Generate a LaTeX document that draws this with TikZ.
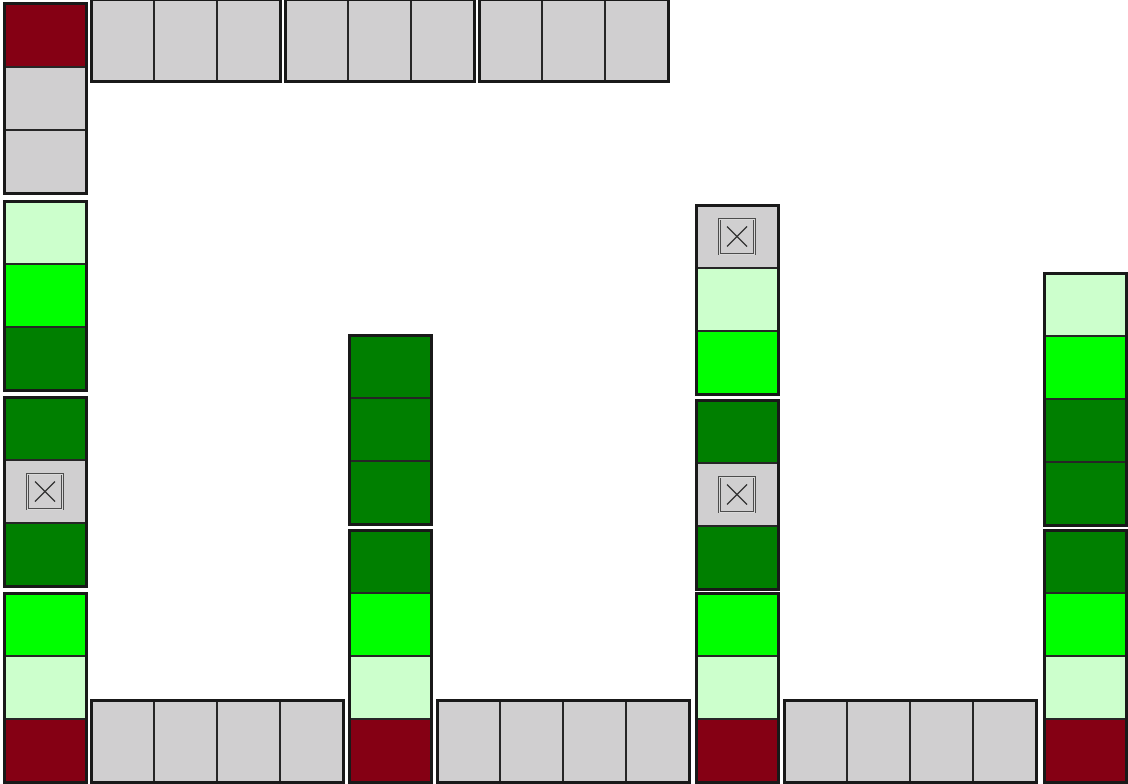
\documentclass[tikz,border=0pt]{standalone}
\usetikzlibrary{positioning}
\definecolor{kred}{HTML}{850014}
\definecolor{kgray}{HTML}{D0CFD0}
\definecolor{klight}{HTML}{CCFFCC}
\definecolor{kgreen}{HTML}{00FF00}
\definecolor{kdark}{HTML}{007F00}
\tikzset{
  vcell/.style={draw=black!85, line width=1.7pt, minimum width=82pt, minimum height=63pt,
    inner sep=0pt, outer sep=0pt, anchor=north west},
  hcell/.style={vcell, minimum width=63pt, minimum height=82pt},
  group/.style={draw=black!90, line width=3pt},
  xbox/.style={draw=black!70, double=black!15, double distance=0.8pt, line width=0.9pt, fill=kgray,
    minimum size=35pt, inner sep=0pt,
    path picture={\draw[black!80, line width=1.2pt]
      ([shift={(-10pt,-10pt)}]path picture bounding box.center) -- ([shift={(10pt,10pt)}]path picture bounding box.center)
      ([shift={(-10pt,10pt)}]path picture bounding box.center) -- ([shift={(10pt,-10pt)}]path picture bounding box.center);}}
}
\begin{document}
\begin{tikzpicture}[x=1pt, y=-1pt]
\useasboundingbox (0,0) rectangle (1128,784);
% top row
\foreach \c [count=\i from 0] in {kgray,kgray,kgray}
  \node[hcell, fill=\c] (ta\i) at (91+63*\i,0) {};
\draw[group] (ta0.north west) rectangle (ta2.south east);
\foreach \c [count=\i from 0] in {kgray,kgray,kgray}
  \node[hcell, fill=\c] (tb\i) at (285+63*\i,0) {};
\draw[group] (tb0.north west) rectangle (tb2.south east);
\foreach \c [count=\i from 0] in {kgray,kgray,kgray}
  \node[hcell, fill=\c] (tc\i) at (479+63*\i,0) {};
\draw[group] (tc0.north west) rectangle (tc2.south east);

% left column
\foreach \c [count=\i from 0] in {kred,kgray,kgray}
  \node[vcell, fill=\c] (la\i) at (4,4+63*\i) {};
\draw[group] (la0.north west) rectangle (la2.south east);
\foreach \c [count=\i from 0] in {klight,kgreen,kdark}
  \node[vcell, fill=\c] (lb\i) at (4,201+63*\i) {};
\draw[group] (lb0.north west) rectangle (lb2.south east);
\foreach \c [count=\i from 0] in {kdark,kgray,kdark}
  \node[vcell, fill=\c] (lc\i) at (4,397+63*\i) {};
\draw[group] (lc0.north west) rectangle (lc2.south east);
\node[xbox] (lx) at (lc1) {};
\foreach \c [count=\i from 0] in {kgreen,klight,kred}
  \node[vcell, fill=\c] (ld\i) at (4,593+63*\i) {};
\draw[group] (ld0.north west) rectangle (ld2.south east);

% second column
\foreach \c [count=\i from 0] in {kdark,kdark,kdark}
  \node[vcell, fill=\c] (ma\i) at (349,335+63*\i) {};
\draw[group] (ma0.north west) rectangle (ma2.south east);
\foreach \c [count=\i from 0] in {kdark,kgreen,klight,kred}
  \node[vcell, fill=\c] (mb\i) at (349,530+63*\i) {};
\draw[group] (mb0.north west) rectangle (mb3.south east);

% third column
\foreach \c [count=\i from 0] in {kgray,klight,kgreen}
  \node[vcell, fill=\c] (na\i) at (696,205+63*\i) {};
\draw[group] (na0.north west) rectangle (na2.south east);
\node[xbox] (nx) at (na0) {};
\foreach \c [count=\i from 0] in {kdark,kgray,kdark}
  \node[vcell, fill=\c] (nb\i) at (696,400+63*\i) {};
\draw[group] (nb0.north west) rectangle (nb2.south east);
\node[xbox] (ny) at (nb1) {};
\foreach \c [count=\i from 0] in {kgreen,klight,kred}
  \node[vcell, fill=\c] (nc\i) at (696,593+63*\i) {};
\draw[group] (nc0.north west) rectangle (nc2.south east);

% right column
\foreach \c [count=\i from 0] in {klight,kgreen,kdark,kdark}
  \node[vcell, fill=\c] (ra\i) at (1044,273+63*\i) {};
\draw[group] (ra0.north west) rectangle (ra3.south east);
\foreach \c [count=\i from 0] in {kdark,kgreen,klight,kred}
  \node[vcell, fill=\c] (rb\i) at (1044,530+63*\i) {};
\draw[group] (rb0.north west) rectangle (rb3.south east);

% bottom row
\foreach \c [count=\i from 0] in {kgray,kgray,kgray,kgray}
  \node[hcell, fill=\c] (ba\i) at (91+63*\i,700) {};
\draw[group] (ba0.north west) rectangle (ba3.south east);
\foreach \c [count=\i from 0] in {kgray,kgray,kgray,kgray}
  \node[hcell, fill=\c] (bb\i) at (437+63*\i,700) {};
\draw[group] (bb0.north west) rectangle (bb3.south east);
\foreach \c [count=\i from 0] in {kgray,kgray,kgray,kgray}
  \node[hcell, fill=\c] (bc\i) at (784+63*\i,700) {};
\draw[group] (bc0.north west) rectangle (bc3.south east);
\end{tikzpicture}
\end{document}
